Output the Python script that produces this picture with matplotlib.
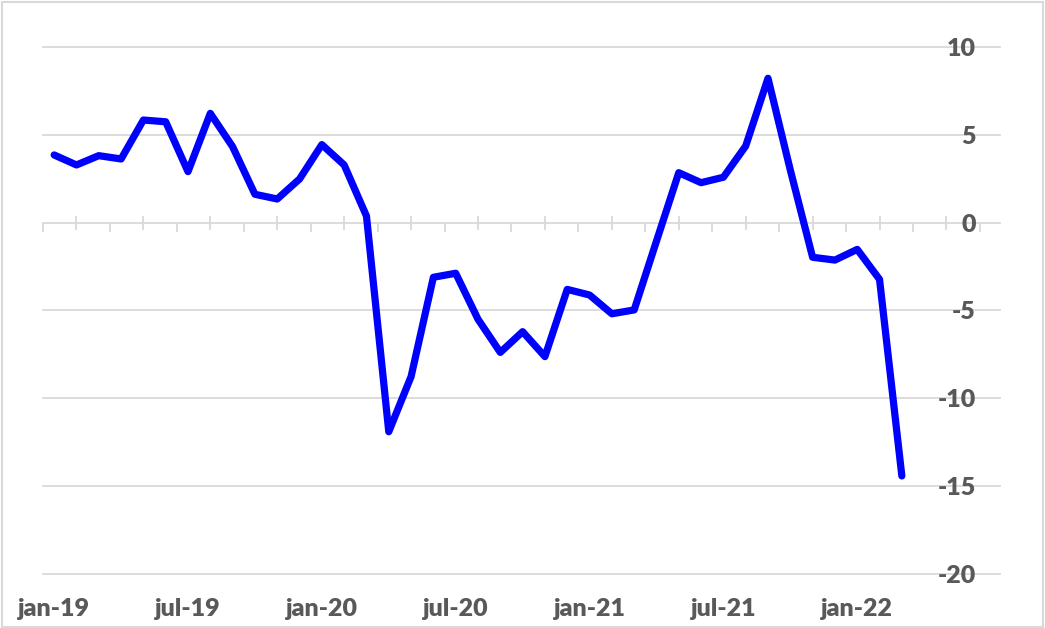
import numpy as np
import matplotlib
matplotlib.use("Agg")
import matplotlib.pyplot as plt
from matplotlib.patches import Rectangle

# ---- data (monthly, jan-19 .. mar-22) ----
values = [3.86, 3.29, 3.82, 3.63, 5.85, 5.75, 2.91, 6.23, 4.33, 1.62, 1.35, 2.49,
          4.45, 3.29, 0.38, -11.91, -8.77, -3.11, -2.88, -5.50, -7.39, -6.21, -7.63, -3.80,
          -4.12, -5.19, -4.97, -1.05, 2.85, 2.28, 2.59, 4.37, 8.23, 3.00, -1.97, -2.13,
          -1.52, -3.23, -14.43]
tick_labels = ["jan-19", "jul-19", "jan-20", "jul-20", "jan-21", "jul-21", "jan-22"]
label_every = 6
y_ticks = [-20, -15, -10, -5, 0, 5, 10]

W, H = 1045, 628
fig = plt.figure(figsize=(W / 100, H / 100), dpi=100)
fig.patch.set_facecolor("white")

ax_left, ax_right = 43, 1000
ax_top, ax_bottom = 47.2, 573.7
ax = fig.add_axes([ax_left / W, (H - ax_bottom) / H,
                   (ax_right - ax_left) / W, (ax_bottom - ax_top) / H])

x = np.arange(len(values))
grid_col = "#d9d9d9"
text_col = "#595959"
FS = 18
WEIGHT = "heavy"
font = dict(family=["Lato", "DejaVu Sans"], weight=WEIGHT, color=text_col, size=FS)

ax.plot(x, values, color="#0000ff", lw=5.2, solid_joinstyle="round",
        solid_capstyle="round", zorder=4)

ax.set_xlim(-0.5, 42.4)
ax.set_ylim(-20, 10)

# horizontal gridlines
for v in y_ticks:
    if v != 0:
        ax.axhline(v, color=grid_col, lw=1.3, zorder=1, clip_on=False)

# spines: only zero axis
for s in ["left", "right", "top"]:
    ax.spines[s].set_visible(False)
ax.spines["bottom"].set_position(("data", 0))
ax.spines["bottom"].set_color(grid_col)
ax.spines["bottom"].set_linewidth(1.3)
ax.spines["bottom"].set_zorder(1)

# category ticks on zero axis
major = np.arange(1, 41, 3)
minor = np.arange(-0.5, 42, 3)
ax.set_xticks(major)
ax.set_xticks(minor, minor=True)
ax.tick_params(axis="x", which="major", direction="inout", length=9.5, width=1.3,
               color=grid_col, labelbottom=False)
ax.tick_params(axis="x", which="minor", direction="out", length=6.5, width=1.3,
               color=grid_col, labelbottom=False)

# y tick labels inside on right
ax.set_yticks(y_ticks)
ax.set_yticklabels([str(v) for v in y_ticks])
ax.tick_params(axis="y", which="both", length=0, left=False, right=False,
               labelleft=False, labelright=True, pad=-17.3)
for lab in ax.get_yticklabels():
    lab.set_ha("right")
    lab.set_fontfamily(["Lato", "DejaVu Sans"])
    lab.set_fontweight(WEIGHT)
    lab.set_color(text_col)
    lab.set_fontsize(FS)
    lab.set_zorder(5)

# x labels (low position)
for i, lab in enumerate(tick_labels):
    ax.annotate(lab, xy=(i * label_every, -20), xytext=(0, -25.5),
                textcoords="offset points", ha="center", va="center",
                annotation_clip=False, **font)

ax.set_facecolor("none")

# chart border
fig.add_artist(Rectangle((1.5 / W, 1.5 / H), 1 - 3.5 / W, 1 - 3.5 / H,
                         transform=fig.transFigure, fill=False,
                         edgecolor=grid_col, lw=1.5))

fig.savefig("out.png", dpi=100, facecolor="white")
